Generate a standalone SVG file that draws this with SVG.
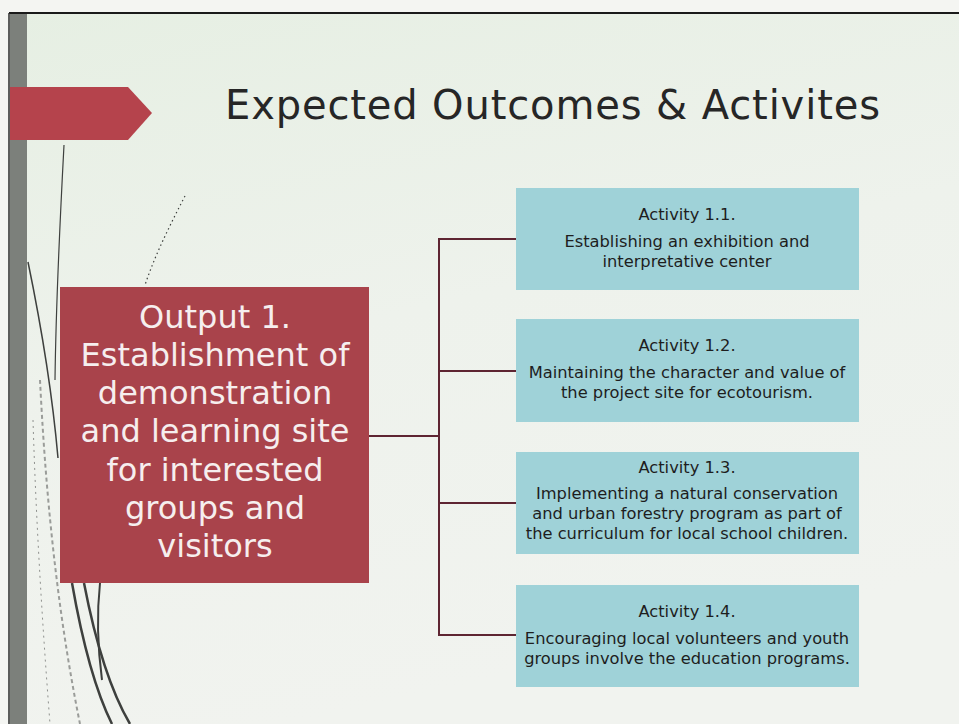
<svg xmlns="http://www.w3.org/2000/svg" width="959" height="724" viewBox="0 0 959 724">
  <defs>
    <linearGradient id="bg" x1="0" y1="0" x2="0.3" y2="1">
      <stop offset="0" stop-color="#e6efe3"/>
      <stop offset="0.5" stop-color="#eef2ec"/>
      <stop offset="1" stop-color="#f1f3ef"/>
    </linearGradient>
    <style>
      .title { font-family: "DejaVu Sans", "Liberation Sans", sans-serif; font-size: 40px; fill: #262626; }
      .out { font-family: "DejaVu Sans", "Liberation Sans", sans-serif; font-size: 32px; fill: #f6eeee; text-anchor: middle; }
      .act { font-family: "DejaVu Sans", "Liberation Sans", sans-serif; font-size: 16.3px; fill: #1e1e1e; text-anchor: middle; }
      .abox { fill: #9fd2d8; }
      .conn { stroke: #5e2532; stroke-width: 2; fill: none; }
      .deco { stroke: #3e403e; fill: none; }
    </style>
  </defs>

  <!-- page -->
  <rect x="0" y="0" width="959" height="724" fill="#f4f5f2"/>
  <rect x="10" y="13" width="949" height="711" fill="url(#bg)"/>
  <line x1="9" y1="13" x2="959" y2="13" stroke="#1a1a1a" stroke-width="2"/>
  <line x1="9" y1="13" x2="9" y2="724" stroke="#2a2a2a" stroke-width="1.5"/>
  <rect x="10" y="14" width="17" height="710" fill="#7c807b"/>

  <!-- decorative lines -->
  <path class="deco" stroke-width="1.2" d="M64,145 C60,220 56,300 55,380"/>
  <path class="deco" stroke-width="1.5" d="M28,262 C40,320 52,390 58,458"/>
  <path class="deco" stroke-width="1.2" stroke-dasharray="1.5,3" d="M185,196 C170,225 155,255 145,285"/>
  <path class="deco" stroke-width="2.5" d="M72,583 C82,640 95,690 112,724"/>
  <path class="deco" stroke-width="2.5" d="M84,583 C95,640 110,690 130,724"/>
  <path class="deco" stroke-width="2" d="M100,583 C96,620 98,650 102,680"/>
  <path stroke="#9a9c99" stroke-width="2" fill="none" stroke-dasharray="4,3" d="M40,380 C45,480 55,600 80,724"/>
  <path stroke="#8f918e" stroke-width="1" fill="none" stroke-dasharray="2,4" d="M33,420 C36,520 42,620 50,724"/>

  <!-- banner -->
  <polygon points="10,87 128,87 152,113 128,140 10,140" fill="#b5434c"/>

  <!-- title -->
  <text class="title" x="225" y="119" textLength="655">Expected Outcomes &amp; Activites</text>

  <!-- connectors -->
  <g id="connectors">
    <line class="conn" x1="369" y1="436" x2="439" y2="436"/>
    <line class="conn" x1="439" y1="238" x2="439" y2="636"/>
    <line class="conn" x1="438" y1="239" x2="516" y2="239"/>
    <line class="conn" x1="438" y1="371" x2="516" y2="371"/>
    <line class="conn" x1="438" y1="503" x2="516" y2="503"/>
    <line class="conn" x1="438" y1="635" x2="516" y2="635"/>
  </g>

  <!-- output node -->
  <g id="output1">
    <rect x="60" y="287" width="309" height="296" fill="#a9434b"/>
    <text class="out" x="215" y="327.5">Output 1.</text>
    <text class="out" x="215" y="365.8">Establishment of</text>
    <text class="out" x="215" y="404.1">demonstration</text>
    <text class="out" x="215" y="442.4">and learning site</text>
    <text class="out" x="215" y="480.7">for interested</text>
    <text class="out" x="215" y="519">groups and</text>
    <text class="out" x="215" y="557.3">visitors</text>
  </g>

  <!-- activity nodes -->
  <g id="act11">
    <rect class="abox" x="516" y="188" width="343" height="102"/>
    <text class="act" x="687" y="220">Activity 1.1.</text>
    <text class="act" x="687" y="247">Establishing an exhibition and</text>
    <text class="act" x="687" y="267">interpretative center</text>
  </g>
  <g id="act12">
    <rect class="abox" x="516" y="319" width="343" height="103"/>
    <text class="act" x="687" y="351">Activity 1.2.</text>
    <text class="act" x="687" y="378">Maintaining the character and value of</text>
    <text class="act" x="687" y="398">the project site for ecotourism.</text>
  </g>
  <g id="act13">
    <rect class="abox" x="516" y="452" width="343" height="102"/>
    <text class="act" x="687" y="473">Activity 1.3.</text>
    <text class="act" x="687" y="499">Implementing a natural conservation</text>
    <text class="act" x="687" y="519">and urban forestry program as part of</text>
    <text class="act" x="687" y="539">the curriculum for local school children.</text>
  </g>
  <g id="act14">
    <rect class="abox" x="516" y="585" width="343" height="102"/>
    <text class="act" x="687" y="617">Activity 1.4.</text>
    <text class="act" x="687" y="644">Encouraging local volunteers and youth</text>
    <text class="act" x="687" y="664">groups involve the education programs.</text>
  </g>
</svg>
